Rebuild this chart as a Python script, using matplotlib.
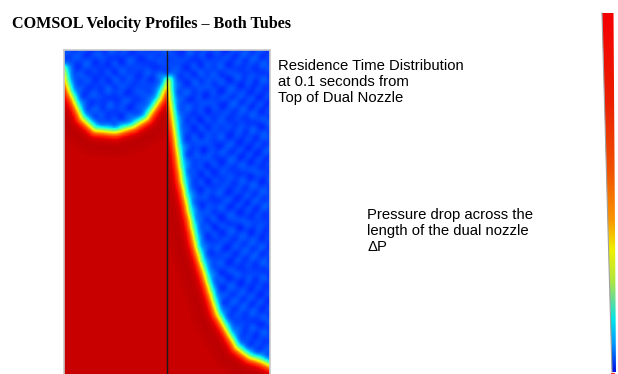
import numpy as np
import matplotlib
matplotlib.use("Agg")
import matplotlib.pyplot as plt
from matplotlib.path import Path
from matplotlib.patches import Polygon
from matplotlib.colors import LinearSegmentedColormap

# interface between fluids, in tube-width units (x across, depth down from top)
left_x = [0.00, 0.03, 0.06, 0.18, 0.30, 0.50, 0.67, 0.80, 0.93, 1.00]
left_depth = [0.18, 0.31, 0.40, 0.66, 0.77, 0.79, 0.74, 0.66, 0.47, 0.30]

right_x = [1.02, 1.04, 1.09, 1.15, 1.29, 1.49, 1.68, 1.80, 1.92, 2.00]
right_depth = [0.29, 0.48, 0.85, 1.26, 1.91, 2.55, 2.88, 2.97, 3.01, 3.05]

# colour scale of the legend bar, bottom (0) to top (1)
bar_stops = [0.0, 0.075, 0.145, 0.20, 0.256, 0.34, 0.423, 0.563, 0.758, 1.0]
bar_colors = ["#0010e6", "#0096ff", "#00e6e6", "#64dc96", "#b4e63c",
              "#f0f000", "#fa9600", "#f05000", "#eb1e00", "#f50000"]

title = "COMSOL Velocity Profiles \u2013 Both Tubes"
note_rtd = "Residence Time Distribution\nat 0.1 seconds from\nTop of Dual Nozzle"
note_dp = "Pressure drop across the\nlength of the dual nozzle\n\u0394P"

W, H = 618, 374
fig = plt.figure(figsize=(W / 100, H / 100), dpi=100)
fig.patch.set_facecolor("white")


def signed_field(px, pd, red_poly, xs, ds):
    # dense polyline for distance lookup
    pts = []
    for i in range(len(xs) - 1):
        t = np.linspace(0, 1, 40, endpoint=False)
        pts.append(np.c_[xs[i] + (xs[i + 1] - xs[i]) * t,
                         ds[i] + (ds[i + 1] - ds[i]) * t])
    pts.append([[xs[-1], ds[-1]]])
    pts = np.vstack(pts)
    grid = np.c_[px.ravel(), pd.ravel()]
    dist = np.full(len(grid), np.inf)
    for chunk in np.array_split(np.arange(len(grid)), 20):
        d = np.sqrt(((grid[chunk, None, :] - pts[None, :, :]) ** 2).sum(-1))
        dist[chunk] = d.min(axis=1)
    inside = Path(red_poly).contains_points(grid)
    sd = np.where(inside, dist, -dist)
    return sd.reshape(px.shape)


# simulation field
res = 34
depth_max = 3.3
nx, ny = 2 * res, int(depth_max * res)
xc = (np.arange(nx) + 0.5) / res
dc = (np.arange(ny) + 0.5) / res
X, D = np.meshgrid(xc, dc)

big = 10.0
poly_l = list(zip(left_x, left_depth)) + [(1.0, big), (0.0, big)]
poly_r = ([(1.0, right_depth[0])] + list(zip(right_x, right_depth))
          + [(2.0, big), (1.0, big)])

mask_l = X < 1.0
sd_l = signed_field(X, D, poly_l, left_x, left_depth)
sd_r = signed_field(X, D, poly_r, right_x, right_depth)
sd = np.where(mask_l, sd_l, sd_r)

w = 0.05
s = 0.5 * (1 + np.tanh(sd / w))
# faint mottle in the blue fluid
mottle = 0.018 * (np.sin(29 * X + 1.7 * np.sin(13 * D)) * np.cos(23 * D + 3.1 * np.sin(7 * X))
                  + 0.7 * np.sin(41 * D + 11 * X) * np.sin(37 * X - 5 * D))
# slightly darker red just below the interface
shade = 0.012 * np.exp(-((sd - 0.16) / 0.08) ** 2)
val = 0.19 + 0.745 * s + mottle * (1 - s) + shade * s
val = np.clip(val, 0, 1)

ax = fig.add_axes([64 / W, 0, 206 / W, (H - 50) / H])
ax.imshow(val, cmap="jet", vmin=0, vmax=1, extent=[0, 2, depth_max, 0],
          interpolation="bilinear", aspect="auto")
ax.axvline(1.0, color="#1a1a1a", lw=1.0)
ax.set_xlim(0, 2)
ax.set_ylim((H - 50) / 103, 0)
ax.set_xticks([])
ax.set_yticks([])
for side in ["left", "top", "right"]:
    ax.spines[side].set_color("#c8c8c8")
    ax.spines[side].set_linewidth(1.2)
ax.spines["bottom"].set_visible(False)

# overlay axes in pixel coordinates for legend bar and text
ov = fig.add_axes([0, 0, 1, 1], facecolor="none")
ov.set_xlim(0, W)
ov.set_ylim(H, 0)
ov.axis("off")

bar_cmap = LinearSegmentedColormap.from_list("bar", list(zip(bar_stops, bar_colors)))
grad = np.linspace(1, 0, 256)[:, None]
wedge = Polygon([(602, 13), (613.5, 13), (616, 372), (612, 372)], closed=True,
                facecolor="none", edgecolor="none")
ov.add_patch(wedge)
im = ov.imshow(grad, cmap=bar_cmap, vmin=0, vmax=1, extent=[600, 618, 372, 13],
               aspect="auto", interpolation="bilinear")
im.set_clip_path(wedge)
ov.plot([602, 612], [13, 372], color="#a0a0a0", lw=0.8)
ov.plot([611, 614], [372.5, 372.5], color="#ff3030", lw=0.8)

fig.text(12 / W, 1 - 24 / H, title, fontsize=11.6, fontweight="bold",
         family="Liberation Serif", va="center", ha="left")
fig.text(278 / W, 1 - 59 / H, note_rtd, fontsize=10.7, family="Liberation Sans",
         va="top", ha="left", linespacing=1.2)
fig.text(367 / W, 1 - 208 / H, note_dp, fontsize=10.7, family="Liberation Sans",
         va="top", ha="left", linespacing=1.2)

fig.savefig("out.png", dpi=100)
